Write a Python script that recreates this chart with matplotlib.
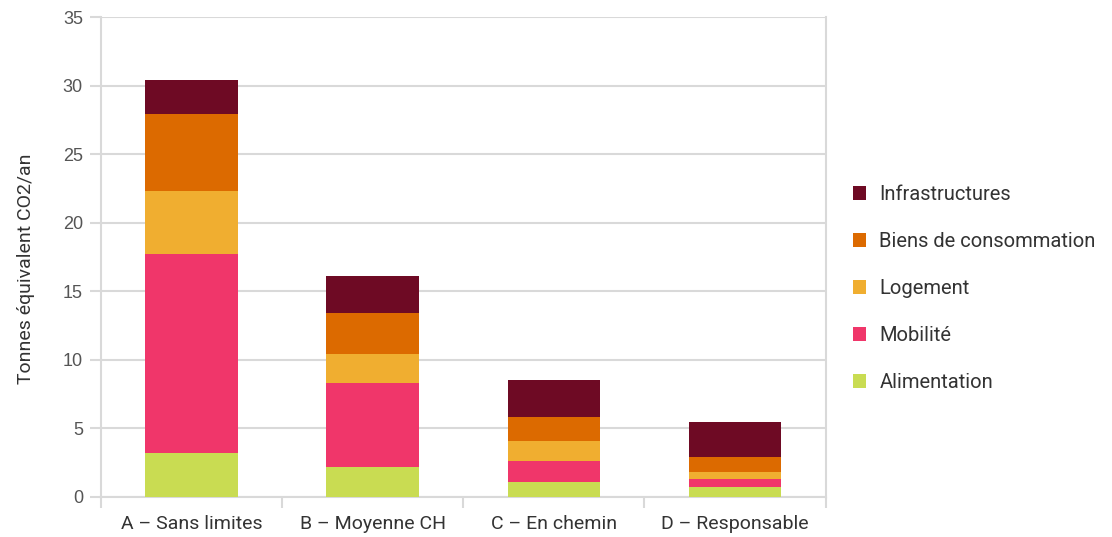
import matplotlib
matplotlib.use("Agg")
import numpy as np
from matplotlib import pyplot as plt
from matplotlib.patches import Patch

scenarios = ["A – Sans limites", "B – Moyenne CH", "C – En chemin", "D – Responsable"]

# tonnes CO2-eq per year, bottom to top of each stack
alimentation = [3.2, 2.2, 1.1, 0.75]
mobilite = [14.5, 6.1, 1.5, 0.55]
logement = [4.6, 2.1, 1.5, 0.5]
biens = [5.6, 3.0, 1.75, 1.1]
infrastructures = [2.5, 2.7, 2.7, 2.55]

series = [
    ("Alimentation", alimentation, "#c9dc52"),
    ("Mobilité", mobilite, "#f0366a"),
    ("Logement", logement, "#f0ae30"),
    ("Biens de consommation", biens, "#dc6a00"),
    ("Infrastructures", infrastructures, "#6e0a24"),
]

grid_col = "#d9d9d9"
text_col = "#333333"

fig = plt.figure(figsize=(11.12, 5.37), dpi=100)
ax = fig.add_axes([0.0908, 0.0745, 0.6516, 0.8938])

x = np.arange(len(scenarios))
bottom = np.zeros(len(scenarios))
for name, vals, col in series:
    ax.bar(x, vals, width=0.51, bottom=bottom, color=col, label=name, zorder=3)
    bottom += np.array(vals)

ax.set_xlim(-0.5, len(scenarios) - 0.5)
ax.set_ylim(0, 35)
ax.set_yticks(np.arange(0, 36, 5))
ax.yaxis.grid(True, color=grid_col, linewidth=1.5, zorder=0)

for side in ["left", "right", "bottom"]:
    ax.spines[side].set_color(grid_col)
    ax.spines[side].set_linewidth(1.5)
ax.spines["top"].set_visible(False)

# y ticks: short grey stubs left of the axis, Arial-like labels
ax.tick_params(axis="y", length=8, width=1.5, color=grid_col, pad=5,
               labelsize=13, labelcolor="#555555")
for lbl in ax.get_yticklabels():
    lbl.set_family("Liberation Sans")

# x: category labels centred, separator ticks between categories
ax.set_xticks(x)
ax.set_xticklabels(scenarios, family="Roboto", fontsize=14, color=text_col)
ax.tick_params(axis="x", length=0, pad=13)
ax.set_xticks(np.arange(-0.5, len(scenarios)), minor=True)
ax.tick_params(axis="x", which="minor", length=8, width=1.5, color=grid_col)

ax.set_ylabel("Tonnes équivalent CO2/an", family="Roboto", fontsize=14,
              color=text_col)
ax.yaxis.set_label_coords(-0.091, 0.475)

handles = [Patch(facecolor=col, label=name) for name, _, col in series[::-1]]
fig.legend(handles=handles, loc="center left", bbox_to_anchor=(0.760, 0.463),
           frameon=False, prop={"family": "Roboto", "size": 14.5},
           labelcolor=text_col, handlelength=0.65, handleheight=0.65,
           handletextpad=0.65, labelspacing=1.39, borderaxespad=0)

fig.savefig("out.png", dpi=100)
